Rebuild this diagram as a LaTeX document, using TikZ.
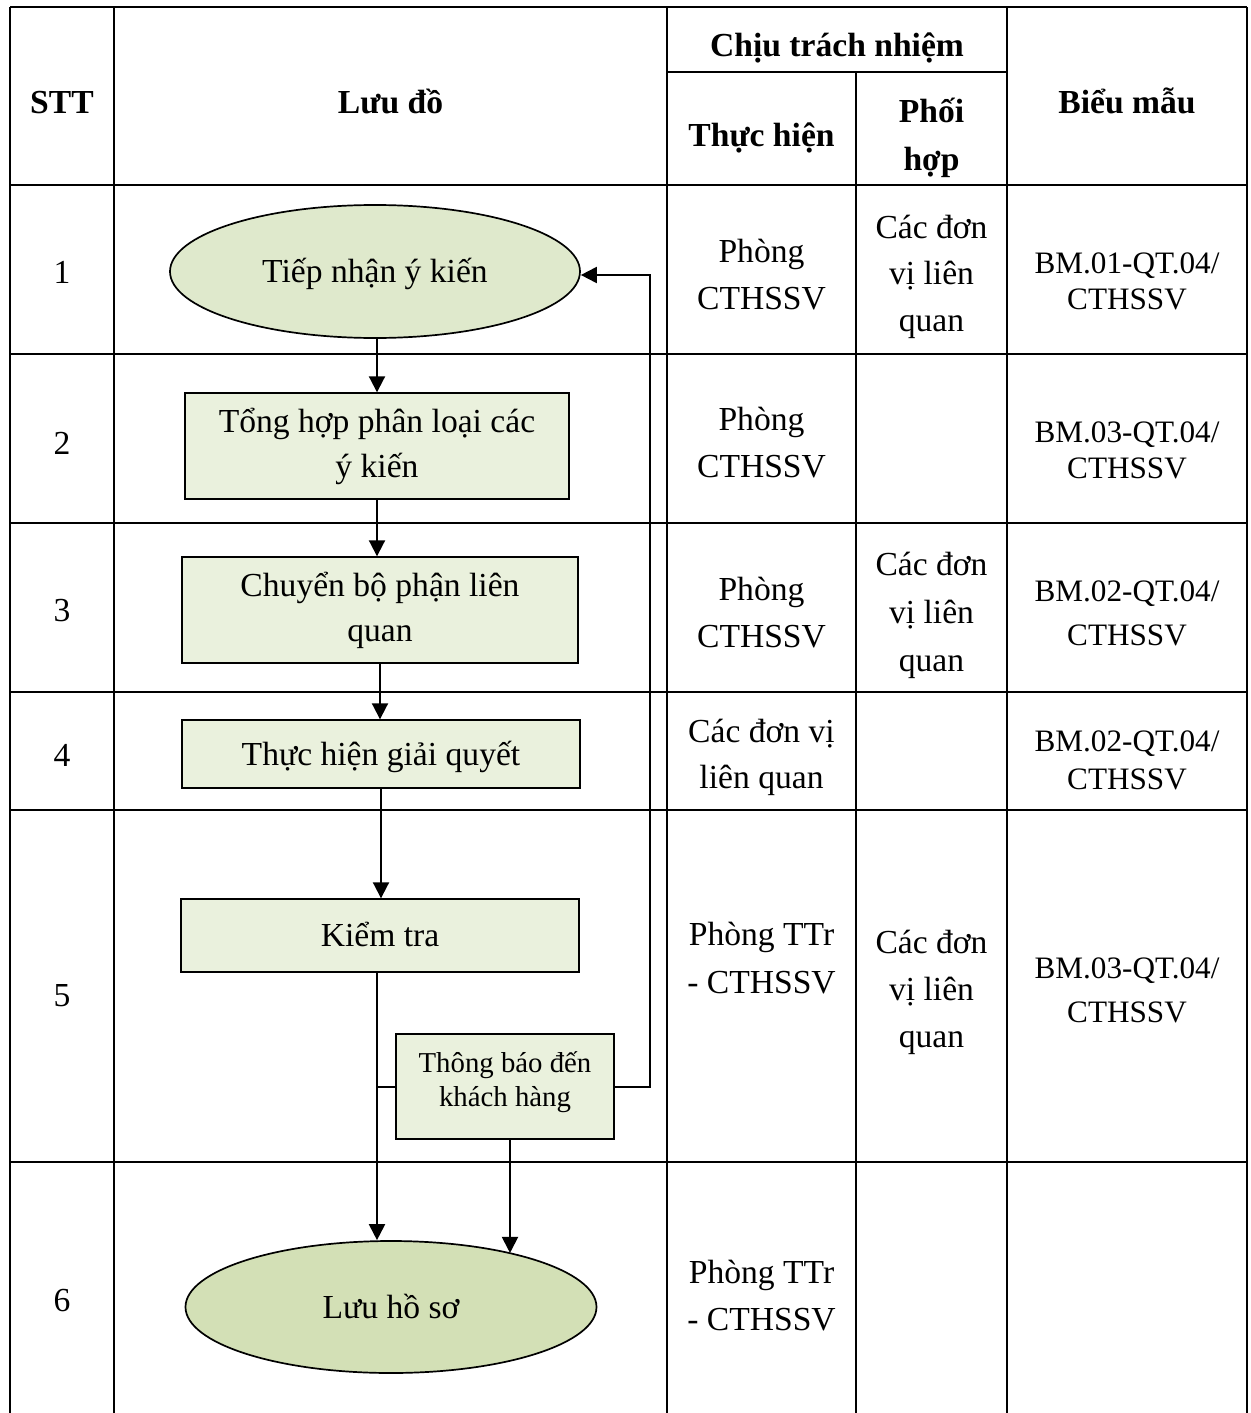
\documentclass[tikz,border=0pt]{standalone}
\usepackage{fontspec}
\setmainfont{Liberation Serif}
\usetikzlibrary{shapes.geometric,arrows.meta,calc}
\definecolor{ellA}{HTML}{DFE9CC}
\definecolor{ellB}{HTML}{D3E0B6}
\definecolor{boxF}{HTML}{EAF1DD}
\begin{document}
\begin{tikzpicture}[x=0.5pt,y=-0.5pt,
 tbl/.style={line width=1.2pt},
 tx/.style={inner sep=0pt,anchor=base,font=\fontsize{16.8}{20}\selectfont},
 bm/.style={inner sep=0pt,anchor=base,font=\fontsize{15.6}{19}\selectfont},
 hd/.style={inner sep=0pt,anchor=base,font=\fontsize{16.8}{20}\selectfont\bfseries},
 term/.style={ellipse,draw,line width=0.85pt,inner sep=0pt,text height=14pt,text depth=3pt,font=\fontsize{16.8}{20}\selectfont},
 proc/.style={rectangle,draw,line width=0.7pt,fill=boxF,inner sep=0pt,align=center,font=\fontsize{16.8}{22.5}\selectfont},
 procone/.style={rectangle,draw,line width=0.7pt,fill=boxF,inner sep=0pt,text height=14pt,text depth=3pt,font=\fontsize{16.8}{20}\selectfont},
 flow/.style={line width=1pt},
 arr/.style={flow,-{Triangle[length=8pt,width=8pt]}}]
\useasboundingbox (0,0) rectangle (1250,1413);
\fill[white] (0,0) rectangle (1250,1413);

% table grid
\draw[tbl] (10,7) -- (1247,7);
\draw[tbl] (667,72) -- (1007,72);
\foreach \yy in {185,354,523,692,810,1162} \draw[tbl] (10,\yy) -- (1247,\yy);
\foreach \xx in {10,114,667,1007,1247} \draw[tbl] (\xx,7) -- (\xx,1413);
\draw[tbl] (856,72) -- (856,1413);

% header
\node[hd] (hSTT) at (62,113) {STT};
\node[hd] (hLD) at (390.5,113) {Lưu đồ};
\node[hd] (hCT) at (837,57) {Chịu trách nhiệm};
\node[hd] (hTH) at (761.5,147) {Thực hiện};
\node[hd] (hPHa) at (931.5,123) {Phối};
\node[hd] (hPHb) at (931.5,170) {hợp};
\node[hd] (hBM) at (1127,113) {Biểu mẫu};

% STT numbers
\node[tx] (n1) at (62,283) {1};
\node[tx] (n2) at (62,454) {2};
\node[tx] (n3) at (62,621) {3};
\node[tx] (n4) at (62,766) {4};
\node[tx] (n5) at (62,1006) {5};
\node[tx] (n6) at (62,1311) {6};

% Thuc hien column
\node[tx] (t1a) at (761.5,262) {Phòng};
\node[tx] (t1b) at (761.5,309) {CTHSSV};
\node[tx] (t2a) at (761.5,430) {Phòng};
\node[tx] (t2b) at (761.5,477) {CTHSSV};
\node[tx] (t3a) at (761.5,600) {Phòng};
\node[tx] (t3b) at (761.5,647) {CTHSSV};
\node[tx] (t4a) at (761.5,742) {Các đơn vị};
\node[tx] (t4b) at (761.5,788) {liên quan};
\node[tx] (t5a) at (761.5,945) {Phòng TTr};
\node[tx] (t5b) at (761.5,993) {- CTHSSV};
\node[tx] (t6a) at (761.5,1283) {Phòng TTr};
\node[tx] (t6b) at (761.5,1330) {- CTHSSV};

% Phoi hop column
\node[tx] (p1a) at (931.5,238) {Các đơn};
\node[tx] (p1b) at (931.5,284) {vị liên};
\node[tx] (p1c) at (931.5,331) {quan};
\node[tx] (p3a) at (931.5,575) {Các đơn};
\node[tx] (p3b) at (931.5,623) {vị liên};
\node[tx] (p3c) at (931.5,671) {quan};
\node[tx] (p5a) at (931.5,953) {Các đơn};
\node[tx] (p5b) at (931.5,1000) {vị liên};
\node[tx] (p5c) at (931.5,1047) {quan};

% Bieu mau column
\node[bm] (m1a) at (1127,273) {BM.01-QT.04/};
\node[bm] (m1b) at (1127,309) {CTHSSV};
\node[bm] (m2a) at (1127,442) {BM.03-QT.04/};
\node[bm] (m2b) at (1127,478) {CTHSSV};
\node[bm] (m3a) at (1127,601) {BM.02-QT.04/};
\node[bm] (m3b) at (1127,645) {CTHSSV};
\node[bm] (m4a) at (1127,751) {BM.02-QT.04/};
\node[bm] (m4b) at (1127,789) {CTHSSV};
\node[bm] (m5a) at (1127,978) {BM.03-QT.04/};
\node[bm] (m5b) at (1127,1022) {CTHSSV};

% flowchart
\node[term,fill=ellA,minimum width=205pt,minimum height=66.5pt] (e1) at (375,271.5) {Tiếp nhận ý kiến};
\node[proc,minimum width=192pt,minimum height=53pt] (b2) at (377,446) {Tổng hợp phân loại các\\ý kiến};
\node[proc,minimum width=198pt,minimum height=53pt] (b3) at (380,610) {Chuyển bộ phận liên\\quan};
\node[procone,minimum width=199pt,minimum height=34pt] (b4) at (381,754) {Thực hiện giải quyết};
\node[procone,minimum width=199pt,minimum height=36.5pt] (kt) at (380,935.5) {Kiểm tra};
\node[proc,minimum width=109pt,minimum height=52.5pt,font=\fontsize{14.4}{17.2}\selectfont] (tb) at (505,1086.5) {Thông báo đến\\khách hàng\\[-9.5pt]};
\node[term,fill=ellB,minimum width=205.5pt,minimum height=66pt] (e6) at (391,1307) {Lưu hồ sơ};

\coordinate (rc) at (650,275);
\draw[arr] (b2.north |- e1.south) -- (b2.north);
\draw[arr] (b2.south) -- (b2.south |- b3.north);
\draw[arr] (b3.south) -- (b3.south |- b4.north);
\draw[arr] (b4.south) -- (b4.south |- kt.north);
\draw[arr] ([xshift=-1.5pt]kt.south) -- ([xshift=-1.5pt]kt.south |- e6.north);
\draw[flow] ([xshift=-1.5pt]kt.south |- tb.west) -- (tb.west);
\draw[arr] (tb.east) -| (rc) -- (rc -| e1.east);
\draw[arr] ([xshift=2.5pt]tb.south) -- ([xshift=2.5pt]tb.south |- e6.24);
\end{tikzpicture}
\end{document}
